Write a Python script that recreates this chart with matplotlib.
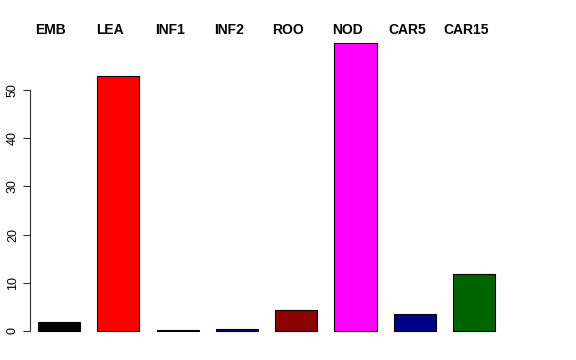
import matplotlib
matplotlib.use("Agg")
import matplotlib.pyplot as plt

labels = ["EMB", "LEA", "INF1", "INF2", "ROO", "NOD", "CAR5", "CAR15"]
values = [1.9, 52.9, 0.3, 0.4, 4.4, 59.8, 3.5, 11.8]
colors = ["black", "red", "black", "#00008B", "#8B0000", "magenta", "#00008B", "#006400"]
yticks = [0, 10, 20, 30, 40, 50]

W, H = 576, 360
y0_px = 331          # pixel row of y = 0
px_per_unit = 4.82   # vertical pixels per data unit
left_px = 30         # pixel column of the y axis
step_px = 59.3       # distance between bar centres

fig = plt.figure(figsize=(W / 100, H / 100), dpi=100)
ax = fig.add_axes([left_px / W, (H - y0_px) / H, 1 - left_px / W, y0_px / H])
ax.set_ylim(0, y0_px / px_per_unit)
ax.set_xlim((left_px - 59) / step_px, (W - 59) / step_px)

x = list(range(len(labels)))
ax.bar(x, values, width=0.71, color=colors, edgecolor="black", linewidth=0.8,
       clip_on=False)

# labels sit a little left of the bar centres, as in the original
for xi, lab in zip(x, labels):
    ax.text(xi - 8 / step_px, (y0_px - 30.5) / px_per_unit, lab, ha="center",
            va="center", fontsize=10, fontweight="bold", family="Liberation Sans")

for side in ["top", "right", "bottom"]:
    ax.spines[side].set_visible(False)
ax.spines["left"].set_bounds(0, 50)
ax.spines["left"].set_linewidth(0.8)
ax.spines["left"].set_color("#333333")
ax.set_xticks([])
ax.set_yticks(yticks)
ax.set_yticklabels([str(t) for t in yticks], rotation=90, va="center",
                   fontsize=9, family="Liberation Sans")
ax.tick_params(axis="y", length=5, width=0.8, color="#333333", pad=3)

fig.savefig("out.png", dpi=100)
